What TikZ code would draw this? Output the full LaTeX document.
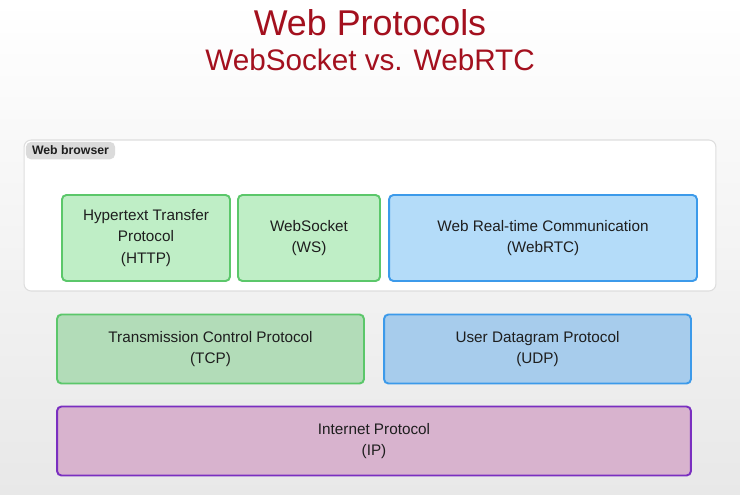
\documentclass[tikz,border=0pt]{standalone}
\usepackage{fontspec}
\setmainfont{Liberation Sans}
\usetikzlibrary{positioning}

\definecolor{titlered}{HTML}{A3101E}
\definecolor{greenfill}{HTML}{BFEEC6}
\definecolor{greenline}{HTML}{5BC76A}
\definecolor{tcpfill}{HTML}{B2DCB8}
\definecolor{bluefill}{HTML}{B4DCF9}
\definecolor{udpfill}{HTML}{A7CCEC}
\definecolor{blueline}{HTML}{3C9AEA}
\definecolor{ipfill}{HTML}{D8B3CE}
\definecolor{ipline}{HTML}{7A2FC0}
\definecolor{textdark}{HTML}{1E1E1E}

\tikzset{
  layer/.style={draw, line width=1.1pt, rounded corners=2.5pt, align=center,
    text=textdark, font=\fontsize{8.7}{12}\selectfont},
  greenbox/.style={layer, draw=greenline, fill=greenfill},
  bluebox/.style={layer, draw=blueline, fill=bluefill},
}

\begin{document}
\begin{tikzpicture}[x=0.02cm, y=-0.02cm]
        % Background, white fading to light grey
        \shade[top color=white, bottom color=black!9] (0,0) rectangle (740,494);
        \useasboundingbox (0,0) rectangle (740,494);

        % Title
        \node[text=titlered, font=\fontsize{20.4}{24}\selectfont] (title) at (370,23) {Web Protocols};
        \node[text=titlered, font=\fontsize{16.9}{20}\selectfont] (subtitle) at (370,60) {WebSocket vs. WebRTC};

        % Web browser frame
        \node[draw=black!13, fill=white, rounded corners=4pt, line width=0.6pt,
              minimum width=13.84cm, minimum height=3.02cm] (browser) at (370,215.5) {};
        \node[anchor=north west, fill=black!14, rounded corners=3pt, inner xsep=3.5pt, inner ysep=2.4pt,
              font=\bfseries\fontsize{7}{8}\selectfont, text=textdark] (browserlabel) at (25.5,141.5) {Web browser};

        % Application layer
        \node[greenbox, minimum width=3.36cm, minimum height=1.72cm] (http) at (146,238)
            {Hypertext Transfer\\Protocol\\(HTTP)};
        \node[greenbox, minimum width=2.84cm, minimum height=1.72cm] (ws) at (309,238)
            {WebSocket\\(WS)};
        \node[bluebox, minimum width=6.16cm, minimum height=1.72cm] (webrtc) at (543,238)
            {Web Real-time Communication\\(WebRTC)};

        % Transport layer
        \node[greenbox, fill=tcpfill, minimum width=6.14cm, minimum height=1.38cm] (tcp) at (210.5,349)
            {Transmission Control Protocol\\(TCP)};
        \node[bluebox, fill=udpfill, minimum width=6.14cm, minimum height=1.38cm] (udp) at (537.5,349)
            {User Datagram Protocol\\(UDP)};

        % Network layer
        \node[layer, draw=ipline, fill=ipfill, minimum width=12.68cm, minimum height=1.38cm] (ip) at (374,441)
            {Internet Protocol\\(IP)};
\end{tikzpicture}
\end{document}
